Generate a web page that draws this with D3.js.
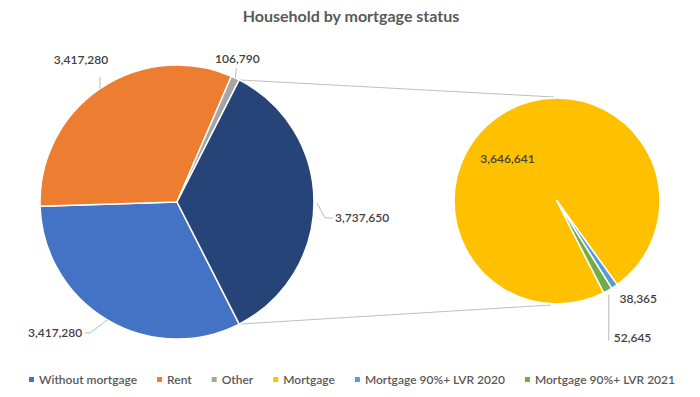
<!DOCTYPE html>
<html>
<head>
<meta charset="utf-8">
<script src="https://cdn.jsdelivr.net/npm/d3@7"></script>
<style>
  body { margin: 0; background: #fff; }
  svg { display: block; font-family: Lato, "Liberation Sans", sans-serif; }
</style>
</head>
<body>
<div id="chart"></div>
<script>
// values
const primaryCats = ['Without mortgage', 'Rent', 'Other'];
const primaryVals = [3417280, 3417280, 106790];
const aggregateCat = 'Mortgage (all)';
const aggregateVal = 3737650;
const secondaryCats = ['Mortgage', 'Mortgage 90%+ LVR 2020', 'Mortgage 90%+ LVR 2021'];
const secondaryVals = [3646641, 38365, 52645];
const legendCats = [...primaryCats, ...secondaryCats];

const colors = d3.scaleOrdinal()
  .domain([...primaryCats, aggregateCat, ...secondaryCats])
  .range(['#4472c4', '#ed7d31', '#a5a5a5', '#264478', '#ffc000', '#5b9bd5', '#70ad47']);

const width = 700, height = 397;
const left = {x: 177, y: 202, r: 137};
const right = {x: 557, y: 201, r: 103};

const svg = d3.select('#chart').append('svg')
  .attr('width', width)
  .attr('height', height);

svg.append('text')
  .attr('x', 351)
  .attr('y', 22)
  .attr('text-anchor', 'middle')
  .style('font-size', '16px')
  .style('font-weight', 'bold')
  .style('fill', '#595959')
  .text('Household by mortgage status');

// the aggregate slice sits centred on the right-hand side, both pies start at the same angle
const total = d3.sum(primaryVals) + aggregateVal;
const aggAngle = aggregateVal / total * 2 * Math.PI;
const start = Math.PI / 2 + aggAngle / 2;

const pie = d3.pie().sort(null).value(d => d.value)
  .startAngle(start).endAngle(start + 2 * Math.PI);

const leftData = pie(primaryCats.map((c, i) => ({cat: c, value: primaryVals[i]}))
  .concat([{cat: aggregateCat, value: aggregateVal}]));
const rightData = pie(secondaryCats.map((c, i) => ({cat: c, value: secondaryVals[i]})));

function edge(p, a, r) {
  return [p.x + (r || p.r) * Math.sin(a), p.y - (r || p.r) * Math.cos(a)];
}

// connector lines between the pies
const agg = leftData[leftData.length - 1];
svg.append('line')
  .attr('x1', edge(left, agg.startAngle)[0]).attr('y1', edge(left, agg.startAngle)[1])
  .attr('x2', right.x - 3).attr('y2', right.y - right.r - 1)
  .style('stroke', '#bfbfbf').style('stroke-width', 1);
svg.append('line')
  .attr('x1', edge(left, agg.endAngle)[0]).attr('y1', edge(left, agg.endAngle)[1])
  .attr('x2', right.x - 6).attr('y2', right.y + right.r + 1)
  .style('stroke', '#bfbfbf').style('stroke-width', 1);

function drawPie(p, data) {
  let arc = d3.arc().innerRadius(0).outerRadius(p.r);
  svg.append('g')
    .attr('transform', `translate(${p.x},${p.y})`)
    .selectAll('path')
    .data(data)
    .enter().append('path')
      .attr('d', arc)
      .style('fill', d => colors(d.data.cat))
      .style('stroke', '#fff')
      .style('stroke-width', 1.5)
      .style('stroke-linejoin', 'round');
}
drawPie(left, leftData);
drawPie(right, rightData);

// label placement: leader from the slice edge, then the text
const labelLayout = {
  'Without mortgage': {leader: [[0, 0], [-17, 13], [-22, 13]], dx: -3, dy: 0, anchor: 'end'},
  'Rent': {leader: [[0, 0], [0, -12]], dx: -19, dy: -17, anchor: 'middle'},
  'Other': {leader: [[0, 0], [1, -10]], dx: 1, dy: -9, anchor: 'middle'},
  'Mortgage (all)': {leader: [[3, 1], [11, 16], [19, 16]], dx: 2, dy: 0, anchor: 'start'},
  'Mortgage': {inside: 0.63, shift: -0.32, anchor: 'middle'},
  'Mortgage 90%+ LVR 2020': {leader: [[0, 0]], dx: 5, dy: 12, anchor: 'start'},
  'Mortgage 90%+ LVR 2021': {leader: [[1, 4], [1, 50]], dx: 5, dy: -3, anchor: 'start'}
};

const fmt = d3.format(',');

function drawLabels(p, data) {
  data.forEach(d => {
    let lay = labelLayout[d.data.cat];
    let mid = (d.startAngle + d.endAngle) / 2;
    let tx, ty;
    if (lay.inside) {
      [tx, ty] = edge(p, mid + lay.shift, p.r * lay.inside);
    } else {
      let e = edge(p, mid);
      let pts = lay.leader.map(o => [e[0] + o[0], e[1] + o[1]]);
      if (pts.length > 1) {
        svg.append('path')
          .attr('d', d3.line()(pts))
          .style('fill', 'none')
          .style('stroke', '#a6a6a6')
          .style('stroke-width', 0.8);
      }
      let last = pts[pts.length - 1];
      tx = last[0] + lay.dx;
      ty = last[1] + lay.dy;
    }
    svg.append('text')
      .attr('x', tx)
      .attr('y', ty)
      .attr('dy', '0.35em')
      .attr('text-anchor', lay.anchor)
      .style('font-size', '12px')
      .style('font-weight', 600)
      .style('fill', '#404040')
      .text(fmt(d.data.value));
  });
}
drawLabels(left, leftData);
drawLabels(right, rightData);

// legend, centred under the chart
const legend = svg.append('g');
let lx = 0;
legendCats.forEach(c => {
  let g = legend.append('g').attr('transform', `translate(${lx},0)`);
  g.append('rect')
    .attr('x', 0).attr('y', -3)
    .attr('width', 5).attr('height', 5)
    .style('fill', colors(c));
  let t = g.append('text')
    .attr('x', 10)
    .attr('dy', '0.35em')
    .style('font-size', '12px')
    .style('font-weight', 600)
    .style('fill', '#595959')
    .text(c);
  lx += 10 + t.node().getComputedTextLength() + 20;
});
lx -= 20;
legend.attr('transform', `translate(${(width - lx) / 2 + 2},380)`);
</script>
</body>
</html>
